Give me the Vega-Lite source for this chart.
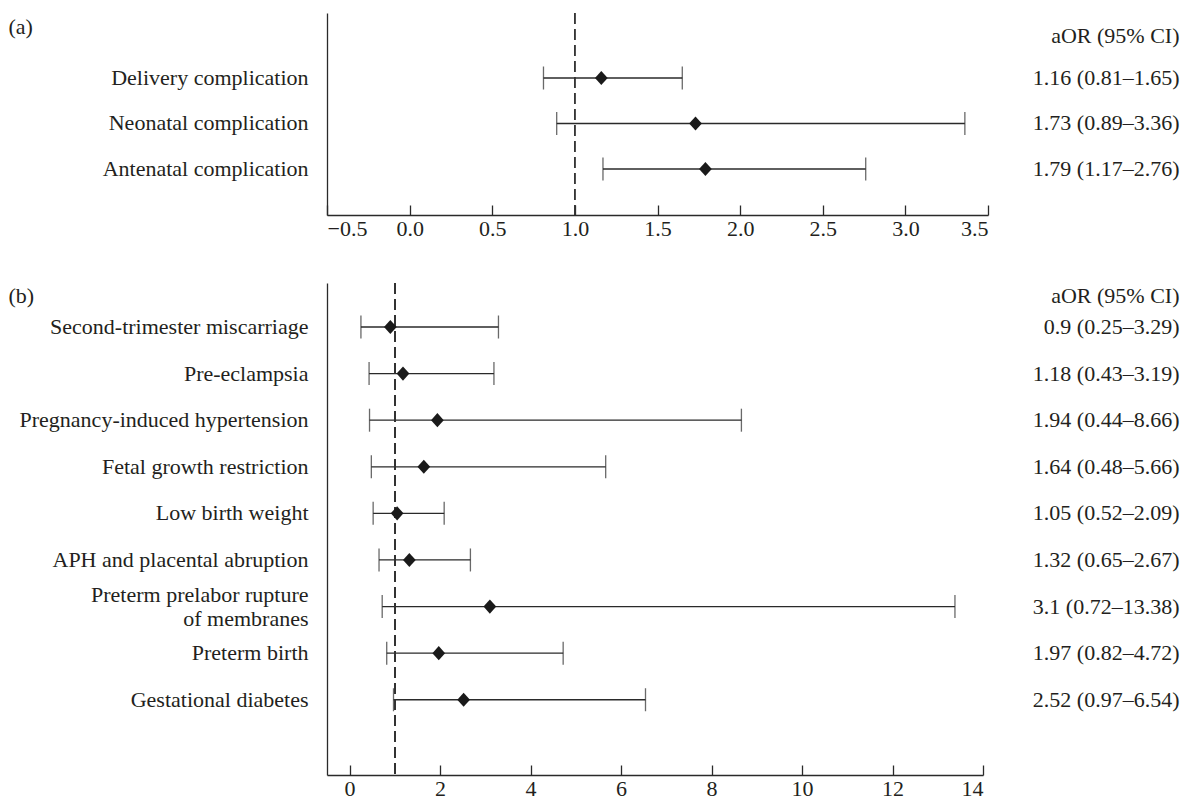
{
  "$schema": "https://vega.github.io/schema/vega-lite/v6.json",
  "padding": {"left": 8, "top": 12, "right": 5, "bottom": 0},
  "autosize": {"type": "pad"},
  "background": "white",
  "spacing": 43,
  "config": {
    "font": "Liberation Serif",
    "view": {"stroke": null},
    "axis": {
      "labelFont": "Liberation Serif", "titleFont": "Liberation Serif",
      "labelFontSize": 22, "titleFontSize": 22, "titleFontWeight": "normal",
      "labelColor": "#231f20", "titleColor": "#231f20", "labelLimit": 0,
      "domainColor": "#2a2a2a", "domainWidth": 1.3,
      "tickColor": "#2a2a2a", "tickWidth": 1.3, "grid": false
    }
  },
  "vconcat": [
    {
      "width": 661, "height": 202,
      "data": {"values": [
        {"outcome": "Delivery complication", "aor": 1.16, "lo": 0.81, "hi": 1.65, "ci": "1.16 (0.81–1.65)"},
        {"outcome": "Neonatal complication", "aor": 1.73, "lo": 0.89, "hi": 3.36, "ci": "1.73 (0.89–3.36)"},
        {"outcome": "Antenatal complication", "aor": 1.79, "lo": 1.17, "hi": 2.76, "ci": "1.79 (1.17–2.76)"}
      ]},
      "layer": [
        {
          "layer": [
            {
              "mark": {"type": "rule", "color": "#2a2a2a", "strokeWidth": 1.3},
              "encoding": {
                "y": {"field": "outcome", "type": "nominal", "sort": null,
                      "scale": {"type": "band", "paddingInner": 0, "paddingOuter": 0.72, "align": 0.645},
                      "axis": {"title": "(a)", "titleAngle": 0, "titleAlign": "left", "titleBaseline": "middle",
                               "titleX": -319, "titleY": 13, "ticks": false, "labelPadding": 19,
                               "labelExpr": "split(datum.label, '\\n')", "labelLineHeight": 24}},
                "x": {"field": "lo", "type": "quantitative",
                      "scale": {"domain": [-0.5, 3.5], "nice": false, "zero": false},
                      "axis": {"title": null, "values": [-0.5, 0, 0.5, 1, 1.5, 2, 2.5, 3, 3.5], "format": ".1f",
                               "tickSize": -10, "labelPadding": 13}},
                "x2": {"field": "hi"}
              }
            },
            {
              "mark": {"type": "tick", "color": "#2a2a2a", "size": 23, "thickness": 1.3},
              "encoding": {
                "y": {"field": "outcome", "type": "nominal", "sort": null},
                "x": {"field": "lo", "type": "quantitative"}
              }
            },
            {
              "mark": {"type": "tick", "color": "#2a2a2a", "size": 23, "thickness": 1.3},
              "encoding": {
                "y": {"field": "outcome", "type": "nominal", "sort": null},
                "x": {"field": "hi", "type": "quantitative"}
              }
            },
            {
              "mark": {"type": "rule", "color": "#333333", "strokeWidth": 1.2, "strokeDash": [11, 5]},
              "encoding": {"x": {"datum": 1}}
            },
            {
              "mark": {"type": "point", "shape": "M0,-1L0.9,0L0,1L-0.9,0Z", "filled": true, "size": 200, "color": "#1a1a1a", "opacity": 1},
              "encoding": {
                "y": {"field": "outcome", "type": "nominal", "sort": null},
                "x": {"field": "aor", "type": "quantitative"}
              }
            }
          ]
        },
        {
          "mark": {"type": "text", "text": ""},
          "encoding": {
            "y": {"field": "ci", "type": "nominal", "sort": null,
                  "scale": {"type": "band", "paddingInner": 0, "paddingOuter": 0.72, "align": 0.645},
                  "axis": {"orient": "right", "domain": false, "ticks": false, "labelAlign": "right", "labelPadding": 191,
                           "title": "aOR (95% CI)", "titleAngle": 0, "titleAlign": "right", "titleBaseline": "middle",
                           "titleX": 191, "titleY": 22}}
          }
        }
      ],
      "resolve": {"scale": {"y": "independent"}}
    },
    {
      "width": 656, "height": 492,
      "data": {"values": [
        {"outcome": "Second-trimester miscarriage", "aor": 0.9, "lo": 0.25, "hi": 3.29, "ci": "0.9 (0.25–3.29)"},
        {"outcome": "Pre-eclampsia", "aor": 1.18, "lo": 0.43, "hi": 3.19, "ci": "1.18 (0.43–3.19)"},
        {"outcome": "Pregnancy-induced hypertension", "aor": 1.94, "lo": 0.44, "hi": 8.66, "ci": "1.94 (0.44–8.66)"},
        {"outcome": "Fetal growth restriction", "aor": 1.64, "lo": 0.48, "hi": 5.66, "ci": "1.64 (0.48–5.66)"},
        {"outcome": "Low birth weight", "aor": 1.05, "lo": 0.52, "hi": 2.09, "ci": "1.05 (0.52–2.09)"},
        {"outcome": "APH and placental abruption", "aor": 1.32, "lo": 0.65, "hi": 2.67, "ci": "1.32 (0.65–2.67)"},
        {"outcome": "Preterm prelabor rupture\nof membranes", "aor": 3.1, "lo": 0.72, "hi": 13.38, "ci": "3.1 (0.72–13.38)"},
        {"outcome": "Preterm birth", "aor": 1.97, "lo": 0.82, "hi": 4.72, "ci": "1.97 (0.82–4.72)"},
        {"outcome": "Gestational diabetes", "aor": 2.52, "lo": 0.97, "hi": 6.54, "ci": "2.52 (0.97–6.54)"}
      ]},
      "layer": [
        {
          "layer": [
            {
              "mark": {"type": "rule", "color": "#2a2a2a", "strokeWidth": 1.3},
              "encoding": {
                "y": {"field": "outcome", "type": "nominal", "sort": null,
                      "scale": {"type": "band", "paddingInner": 0, "paddingOuter": 0.78, "align": 0.285},
                      "axis": {"title": "(b)", "titleAngle": 0, "titleAlign": "left", "titleBaseline": "middle",
                               "titleX": -319, "titleY": 12, "ticks": false, "labelPadding": 19,
                               "labelExpr": "split(datum.label, '\\n')", "labelLineHeight": 24,
                               "labelOffset": {"condition": {"test": "indexof(datum.value, '\\n') >= 0", "value": -12}, "value": 0}}},
                "x": {"field": "lo", "type": "quantitative",
                      "scale": {"domain": [-0.5, 14], "nice": false, "zero": false},
                      "axis": {"title": null, "values": [0, 2, 4, 6, 8, 10, 12, 14], "format": "d",
                               "tickSize": -10, "labelPadding": 13}},
                "x2": {"field": "hi"}
              }
            },
            {
              "mark": {"type": "tick", "color": "#2a2a2a", "size": 23, "thickness": 1.3},
              "encoding": {
                "y": {"field": "outcome", "type": "nominal", "sort": null},
                "x": {"field": "lo", "type": "quantitative"}
              }
            },
            {
              "mark": {"type": "tick", "color": "#2a2a2a", "size": 23, "thickness": 1.3},
              "encoding": {
                "y": {"field": "outcome", "type": "nominal", "sort": null},
                "x": {"field": "hi", "type": "quantitative"}
              }
            },
            {
              "mark": {"type": "rule", "color": "#333333", "strokeWidth": 1.2, "strokeDash": [11, 5]},
              "encoding": {"x": {"datum": 1}}
            },
            {
              "mark": {"type": "point", "shape": "M0,-1L0.9,0L0,1L-0.9,0Z", "filled": true, "size": 200, "color": "#1a1a1a", "opacity": 1},
              "encoding": {
                "y": {"field": "outcome", "type": "nominal", "sort": null},
                "x": {"field": "aor", "type": "quantitative"}
              }
            }
          ]
        },
        {
          "mark": {"type": "text", "text": ""},
          "encoding": {
            "y": {"field": "ci", "type": "nominal", "sort": null,
                  "scale": {"type": "band", "paddingInner": 0, "paddingOuter": 0.78, "align": 0.285},
                  "axis": {"orient": "right", "domain": false, "ticks": false, "labelAlign": "right", "labelPadding": 196,
                           "title": "aOR (95% CI)", "titleAngle": 0, "titleAlign": "right", "titleBaseline": "middle",
                           "titleX": 196, "titleY": 12}}
          }
        }
      ],
      "resolve": {"scale": {"y": "independent"}}
    }
  ]
}
